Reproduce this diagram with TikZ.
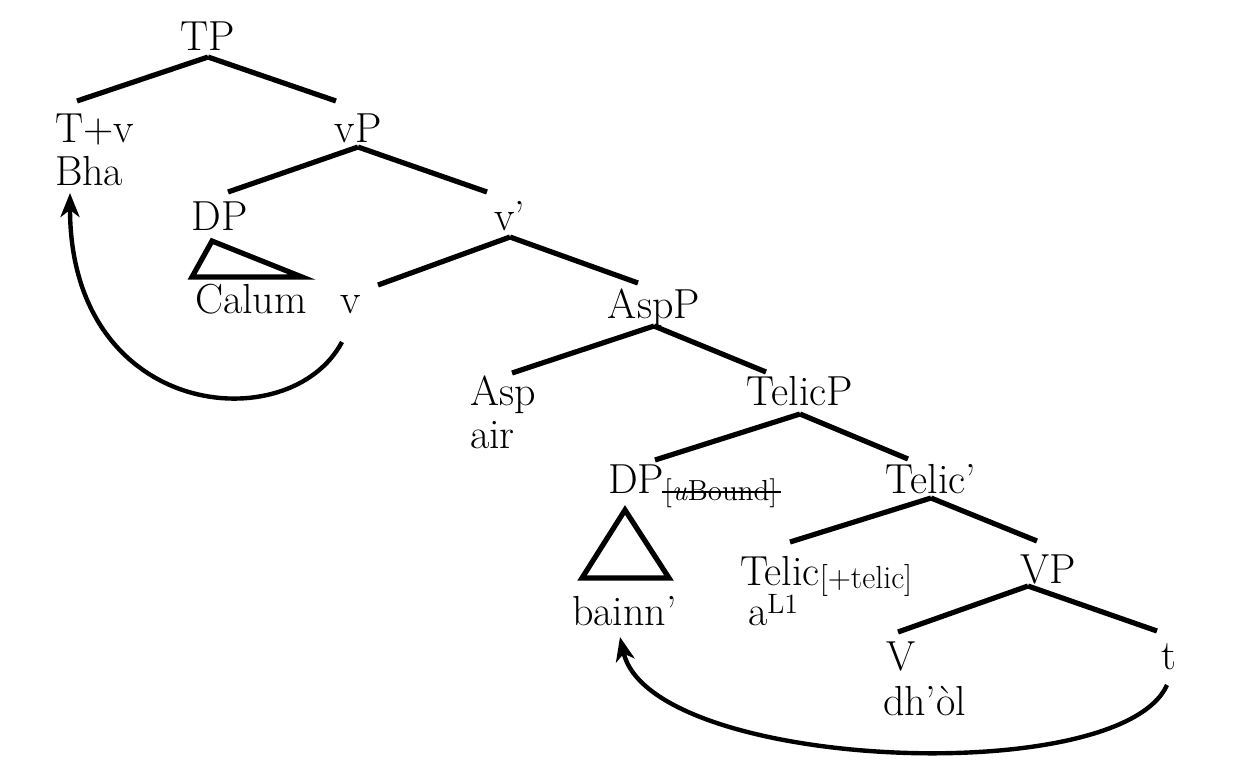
\documentclass[tikz,border=0pt]{standalone}
\usepackage{fontspec}
\usetikzlibrary{calc,arrows.meta}
\newcommand\subsz{\fontsize{14.5}{14.5}\selectfont}
\newcommand\subszb{\fontsize{16}{16}\selectfont}
\newcommand\supsz{\fontsize{14}{14}\selectfont}
\begin{document}
\begin{tikzpicture}[x=0.5pt,y=-0.5pt,
  lbl/.style={inner sep=0pt,outer sep=0pt,font=\fontsize{21}{24}\selectfont,text=black},
  lbc/.style={lbl,anchor=base},
  lbw/.style={lbl,anchor=base west},
  sublbl/.style={inner sep=0pt,outer sep=0pt,font=\subsz,anchor=base west},
  branch/.style={line width=2.6pt,line cap=butt},
  strike/.style={line width=0.75pt},
  tri/.style={line width=2.6pt,line join=miter},
  move/.style={line width=2.2pt,-{Stealth[length=12pt,width=9.5pt,inset=3.5pt]}}]
\useasboundingbox[fill=white] (0,0) rectangle (1252,776);
% labels
\node[lbc] (TP) at (208,50) {TP};
\node[lbw] (Tv) at (55,142) {T+v};
\node[lbw] (Bha) at (55,185) {Bha};
\node[lbc] (vP) at (358,142) {vP};
\node[lbc] (DPa) at (220,230) {DP};
\node[lbw] (Calum) at (195,313) {Calum};
\node[lbc] (vbar) at (510,230) {v’};
\node[lbc] (v) at (351,313) {v};
\node[lbc] (AspP) at (654,318) {AspP};
\node[lbw] (Asp) at (470,405) {Asp};
\node[lbw] (air) at (470,448) {air};
\node[lbc] (TelicP) at (800,405) {TelicP};
\node[lbw] (DPb) at (608,493) {DP};
\node[sublbl] (uB) at ($(DPb.base east)+(0,7)$) {[\textit{u}Bound]};
\node[lbw] (bainn) at (572,625) {bainn’};
\node[lbc] (Telicbar) at (931,493) {Telic’};
\node[lbw] (Telic) at (740,585) {Telic\raisebox{-1.5pt}{\subszb[+telic]}};
\node[lbw] (aL) at (748,625) {a\raisebox{6pt}{\supsz L1}};
\node[lbc] (VP) at (1048,583) {VP};
\node[lbw] (V) at (886,670) {V};
\node[lbw] (dhol) at (883,715) {dh’òl};
\node[lbc] (t) at (1169,669) {t};
% strike-through of the checked feature
\draw[strike] ($(uB.base west)+(-2,-8)$) -- ($(uB.base east)+(4,-8)$);
% branches
\draw[branch] ($(TP.base)+(0,7)$) -- ($(Tv.base west)+(22,-41)$);
\draw[branch] ($(TP.base)+(0,7)$) -- ($(vP.base)+(-22,-41)$);
\draw[branch] ($(vP.base)+(0,5)$) -- ($(DPa.base)+(8,-38)$);
\draw[branch] ($(vP.base)+(0,5)$) -- ($(vbar.base)+(-23,-38)$);
\draw[branch] ($(vbar.base)+(0,7)$) -- ($(v.base)+(27,-28)$);
\draw[branch] ($(vbar.base)+(0,7)$) -- ($(AspP.base)+(-16,-35)$);
\draw[branch] ($(AspP.base)+(0,8)$) -- ($(Asp.base west)+(42,-32)$);
\draw[branch] ($(AspP.base)+(0,8)$) -- ($(TelicP.base)+(-34,-33)$);
\draw[branch] ($(TelicP.base)+(0,9)$) -- ($(DPb.base west)+(47,-33)$);
\draw[branch] ($(TelicP.base)+(0,9)$) -- ($(Telicbar.base)+(-23,-34)$);
\draw[branch] ($(Telicbar.base)+(0,5)$) -- ($(Telic.base west)+(50,-43)$);
\draw[branch] ($(Telicbar.base)+(0,5)$) -- ($(VP.base)+(-11,-42)$);
\draw[branch] ($(VP.base)+(-20,3)$) -- ($(V.base west)+(12,-38)$);
\draw[branch] ($(VP.base)+(-20,3)$) -- ($(t.base)+(-12,-38)$);
% triangles
\draw[tri] ($(DPa.base)+(-8,11)$) -- ($(DPa.base)+(-28,47)$) -- ($(DPa.base)+(82,47)$) -- cycle;
\draw[tri] ($(DPb.base west)+(17,17)$) -- ($(DPb.base west)+(-26,85)$) -- ($(DPb.base west)+(61,85)$) -- cycle;
% movement arrows
\draw[move] ($(v.base)+(-9,29)$) .. controls (290,440) and (70,420) .. ($(Bha.base west)+(15,8)$);
\draw[move] ($(t.base)+(-2,16)$) .. controls (1120,790) and (650,770) .. ($(bainn.base west)+(48,12)$);
\end{tikzpicture}
\end{document}
